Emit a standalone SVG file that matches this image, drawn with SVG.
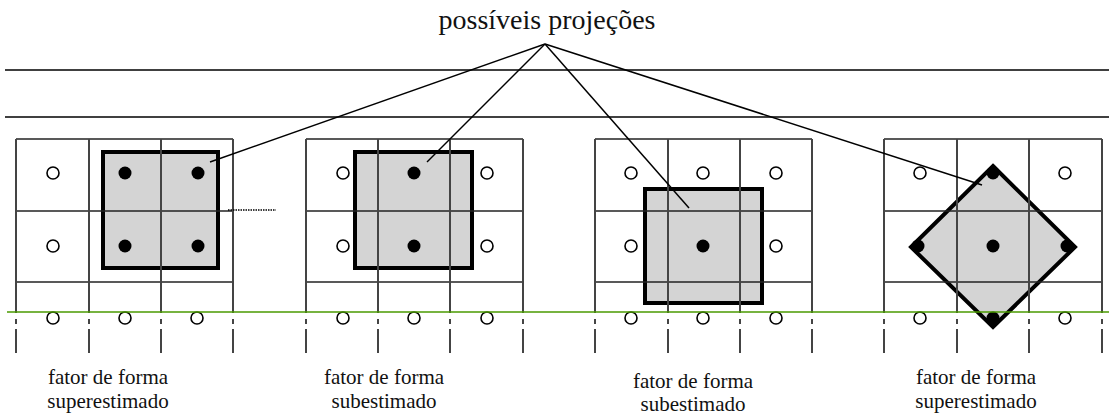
<svg xmlns="http://www.w3.org/2000/svg" width="1109" height="415" viewBox="0 0 1109 415">
<defs>
<style>
.bg{fill:#ffffff}
.grid line{stroke:#222;stroke-width:1.3}
.vl{stroke:#444;stroke-width:2}
.shape{fill:#d4d4d4;stroke:#000;stroke-width:4;stroke-linejoin:miter}
.on{fill:#000}
.off{fill:#fff;stroke:#000;stroke-width:1.6}
.conn{stroke:#000;stroke-width:1.5;fill:none}
.hl{stroke:#000;stroke-width:1.5}
.green{stroke:#4a9a00;stroke-width:1.3}
.title{font-size:28px;fill:#111;text-anchor:middle}
.lbl{font-size:21px;fill:#111;text-anchor:middle}
</style>
<g id="vlines">
<path d="M0,139V313M0,319V324M0,329V353"/>
</g>
</defs>
<rect class="bg" width="1109" height="415"/>
<line class="hl" x1="5" y1="70" x2="1109" y2="70"/>
<line class="hl" x1="5" y1="117" x2="1109" y2="117"/>
<g id="title"><text class="title" font-family="'Liberation Serif', 'DejaVu Serif', 'Times New Roman', serif" x="547" y="29">possíveis projeções</text></g>

<g id="panel1">
<rect class="shape" x="103" y="152" width="115" height="116"/>
<g class="grid">
<line x1="16" y1="139" x2="233" y2="139"/><line x1="16" y1="211" x2="233" y2="211"/><line x1="16" y1="282" x2="233" y2="282"/>
</g>
<g class="vl"><use href="#vlines" x="16"/><use href="#vlines" x="89"/><use href="#vlines" x="161"/><use href="#vlines" x="233"/></g>
<circle class="off" cx="53" cy="173" r="6"/><circle class="off" cx="53" cy="246" r="6"/>
<circle class="on" cx="125" cy="173" r="6.5"/><circle class="on" cx="198" cy="173" r="6.5"/>
<circle class="on" cx="125" cy="246" r="6.5"/><circle class="on" cx="198" cy="246" r="6.5"/>
<circle class="off" cx="53" cy="318" r="6"/><circle class="off" cx="125" cy="318" r="6"/><circle class="off" cx="197" cy="318" r="6"/>
</g>

<g id="panel2">
<rect class="shape" x="355" y="152" width="117" height="116"/>
<g class="grid">
<line x1="306" y1="139" x2="523" y2="139"/><line x1="306" y1="211" x2="523" y2="211"/><line x1="306" y1="282" x2="523" y2="282"/>
</g>
<g class="vl"><use href="#vlines" x="306"/><use href="#vlines" x="378"/><use href="#vlines" x="450"/><use href="#vlines" x="523"/></g>
<circle class="off" cx="343" cy="173" r="6"/><circle class="off" cx="487" cy="173" r="6"/>
<circle class="off" cx="343" cy="246" r="6"/><circle class="off" cx="487" cy="246" r="6"/>
<circle class="on" cx="414" cy="173" r="6.5"/><circle class="on" cx="414" cy="246" r="6.5"/>
<circle class="off" cx="343" cy="318" r="6"/><circle class="off" cx="414" cy="318" r="6"/><circle class="off" cx="487" cy="318" r="6"/>
</g>

<g id="panel3">
<rect class="shape" x="645" y="189" width="117" height="114"/>
<g class="grid">
<line x1="595" y1="139" x2="812" y2="139"/><line x1="595" y1="211" x2="812" y2="211"/><line x1="595" y1="282" x2="812" y2="282"/>
</g>
<g class="vl"><use href="#vlines" x="595"/><use href="#vlines" x="668"/><use href="#vlines" x="740"/><use href="#vlines" x="812"/></g>
<circle class="off" cx="631" cy="173" r="6"/><circle class="off" cx="703" cy="173" r="6"/><circle class="off" cx="776" cy="173" r="6"/>
<circle class="off" cx="631" cy="246" r="6"/><circle class="off" cx="776" cy="246" r="6"/>
<circle class="on" cx="703" cy="246" r="6.5"/>
<circle class="off" cx="631" cy="318" r="6"/><circle class="off" cx="703" cy="318" r="6"/><circle class="off" cx="776" cy="318" r="6"/>
</g>

<g id="panel4">
<polygon class="shape" points="993,166 1075,247 993,327 911,247"/>
<g class="grid">
<line x1="884" y1="139" x2="1102" y2="139"/><line x1="884" y1="211" x2="1102" y2="211"/><line x1="884" y1="282" x2="1102" y2="282"/>
</g>
<g class="vl"><use href="#vlines" x="884"/><use href="#vlines" x="957"/><use href="#vlines" x="1029"/><use href="#vlines" x="1102"/></g>
<circle class="off" cx="920" cy="173" r="6"/><circle class="off" cx="1065" cy="173" r="6"/>
<circle class="on" cx="993" cy="173" r="6.5"/><circle class="on" cx="918" cy="246" r="6.5"/>
<circle class="on" cx="993" cy="246" r="6.5"/><circle class="on" cx="1067" cy="246" r="6.5"/>
<circle class="on" cx="993" cy="318" r="6.5"/>
<circle class="off" cx="920" cy="318" r="6"/><circle class="off" cx="1065" cy="318" r="6"/>
</g>

<line class="green" x1="7" y1="312" x2="1109" y2="312"/>

<g id="connectors">
<line class="conn" x1="545" y1="44" x2="210" y2="162"/>
<line class="conn" x1="545" y1="44" x2="427" y2="162"/>
<line class="conn" x1="545" y1="44" x2="689" y2="208"/>
<line class="conn" x1="545" y1="44" x2="982" y2="185"/>
<line x1="228" y1="210" x2="276" y2="210" stroke="#000" stroke-width="1.5" stroke-dasharray="1.5,1"/>
</g>

<g font-family="'Liberation Serif', 'DejaVu Serif', 'Times New Roman', serif">
<g id="label1"><text class="lbl" x="108" y="384">fator de forma</text><text class="lbl" x="108" y="408">superestimado</text></g>
<g id="label2"><text class="lbl" x="384" y="384">fator de forma</text><text class="lbl" x="384" y="408">subestimado</text></g>
<g id="label3"><text class="lbl" x="693" y="388">fator de forma</text><text class="lbl" x="693" y="411">subestimado</text></g>
<g id="label4"><text class="lbl" x="976" y="384">fator de forma</text><text class="lbl" x="976" y="408">superestimado</text></g>
</g>
</svg>
